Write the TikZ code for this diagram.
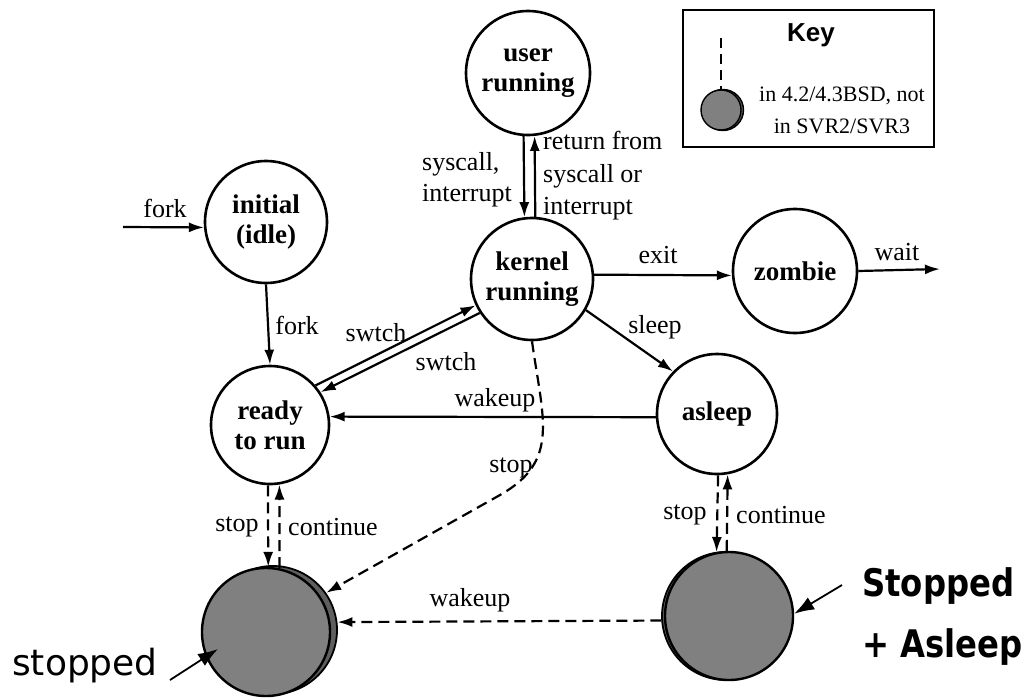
\documentclass[tikz,border=0pt]{standalone}
\usepackage{fontspec}
\setmainfont{Liberation Serif}
\newfontfamily\arialfont{Liberation Sans}
\newfontfamily\dvfont{DejaVu Sans}
\usetikzlibrary{arrows.meta}
\begin{document}
\begin{tikzpicture}[x=1pt,y=-1pt,
  state/.style={circle,draw,line width=2.6pt,minimum size=#1,inner sep=0pt,align=center,
    font=\fontsize{27}{30}\selectfont\bfseries},
  state/.default=122pt,
  graystate/.style={circle,draw,line width=2.4pt,minimum size=128pt,inner sep=0pt,fill={rgb,255:red,128;green,128;blue,128}},
  shadowstate/.style={circle,draw,line width=1.8pt,minimum size=128pt,inner sep=0pt,fill={rgb,255:red,95;green,95;blue,95}},
  lbl/.style={font=\fontsize{26}{31}\selectfont,inner sep=0pt},
  arr/.style={line width=2.2pt,-{Latex[length=15pt,width=10pt]}},
  darr/.style={arr,dash pattern=on 11pt off 6pt},
  dline/.style={line width=2pt,dash pattern=on 10pt off 6pt},
  callout/.style={line width=1.8pt,-{Latex[length=20pt,width=14pt]}}
]
\useasboundingbox[fill=white] (0,0) rectangle (1030,699);

% states
\node[state=124pt] (user) at (528,73) {user\\running};
\node[state] (initial) at (266,222) {initial\\(idle)};
\node[state] (kernel) at (532,279) {kernel\\running};
\node[state=124pt] (zombie) at (795,271) {zombie};
\node[state=118pt] (ready) at (270,425) {ready\\to run};
\node[state=120pt] (asleep) at (717,414) {asleep};
\node[shadowstate] (stoppedsh) at (273,630) {};
\node[graystate] (stopped) at (266,632) {};
\node[shadowstate] (stopasleepsh) at (726,616) {};
\node[graystate] (stopasleep) at (729,616) {};

% key
\node[draw,line width=2.6pt,minimum width=251pt,minimum height=137pt,inner sep=0pt] (keybox) at (808.5,78.5) {};
\node[font=\arialfont\bfseries\fontsize{26}{30}\selectfont,inner sep=0pt] (keytitle) at (811,35) {Key};
\node[circle,draw,line width=1.4pt,minimum size=41pt,inner sep=0pt,fill={rgb,255:red,95;green,95;blue,95}] (keysh) at (723,110) {};
\node[circle,draw,line width=1.4pt,minimum size=40pt,inner sep=0pt,fill={rgb,255:red,128;green,128;blue,128}] (keycircle) at (721,110) {};
\coordinate (keytop) at (721,38);
\draw[dline] (keytop) -- (keycircle.north);
\node[font=\fontsize{22}{32}\selectfont,align=center,inner sep=0pt] (keytext) at (842,110) {in 4.2/4.3BSD, not\\in SVR2/SVR3};

% free-end coordinates
\coordinate (forkin) at (123,227);
\coordinate (waitend) at (940,269);

% connectors
\draw[arr] (forkin) -- (initial.185);
\node[lbl] (lforkin) at (165,208) {fork};
\draw[arr] (initial.south) -- (ready.north);
\node[lbl] (lfork) at (297,325) {fork};

\draw[arr] (user.266) -- (kernel.97);
\draw[arr] (kernel.87) -- (user.276);
\node[lbl,anchor=west,align=left] (lsys) at (422,180) {syscall,\\interrupt};
\node[lbl,anchor=west,align=left,font=\fontsize{26}{32.5}\selectfont] (lret) at (543,176) {return from\\syscall or\\interrupt};

\draw[arr] (kernel.4) -- (zombie.184);
\node[lbl] (lexit) at (658,255) {exit};
\draw[arr] (zombie.0) -- (waitend);
\node[lbl] (lwait) at (897,252) {wait};

\draw[arr] (kernel.-30) -- (asleep.136);
\node[lbl] (lsleep) at (655,327) {sleep};

\draw[arr] (ready.41) -- (kernel.205);
\draw[arr] (kernel.213) -- (ready.33);
\node[lbl] (lsw1) at (376,333) {swtch};
\node[lbl] (lsw2) at (446,362) {swtch};

\draw[arr] (asleep.183) -- (ready.8);
\node[lbl] (lwake1) at (495,400) {wakeup};

\draw[darr] (kernel.270) .. controls (543,420) and (560,461) .. (500,495) -- (stoppedsh.35);
\node[lbl] (lstopk) at (511,468) {stop};

\draw[darr] (ready.268) -- (stopped.88);
\draw[darr] (stopped.78) -- (ready.279);
\node[lbl] (lstop1) at (237,527) {stop};
\node[lbl] (lcont1) at (333,527) {continue};

\draw[darr] (asleep.271) -- (stopasleep.101);
\draw[darr] (stopasleep.92) -- (asleep.280);
\node[lbl] (lstop2) at (685,515) {stop};
\node[lbl] (lcont2) at (781,515) {continue};

\draw[darr] (stopasleepsh.184) -- (stoppedsh.7);
\node[lbl] (lwake2) at (470,600) {wakeup};

% callouts
\node[font=\dvfont\fontsize{36}{40}\selectfont,inner sep=0pt,anchor=west] (stoppedlbl) at (12,666) {stopped};
\coordinate (stoppedtail) at (170,680);
\coordinate (stoppedtip) at (218,649);
\draw[callout] (stoppedtail) -- (stoppedtip);

\node[font=\dvfont\bfseries\fontsize{38}{61}\selectfont,inner sep=0pt,anchor=west,align=left] (salbl) at (862,617) {\scalebox{0.85}[1]{Stopped}\\\scalebox{0.85}[1]{+ Asleep}};
\coordinate (satail) at (842,585);
\draw[callout] (satail) -- (stopasleep.2);
\end{tikzpicture}
\end{document}
